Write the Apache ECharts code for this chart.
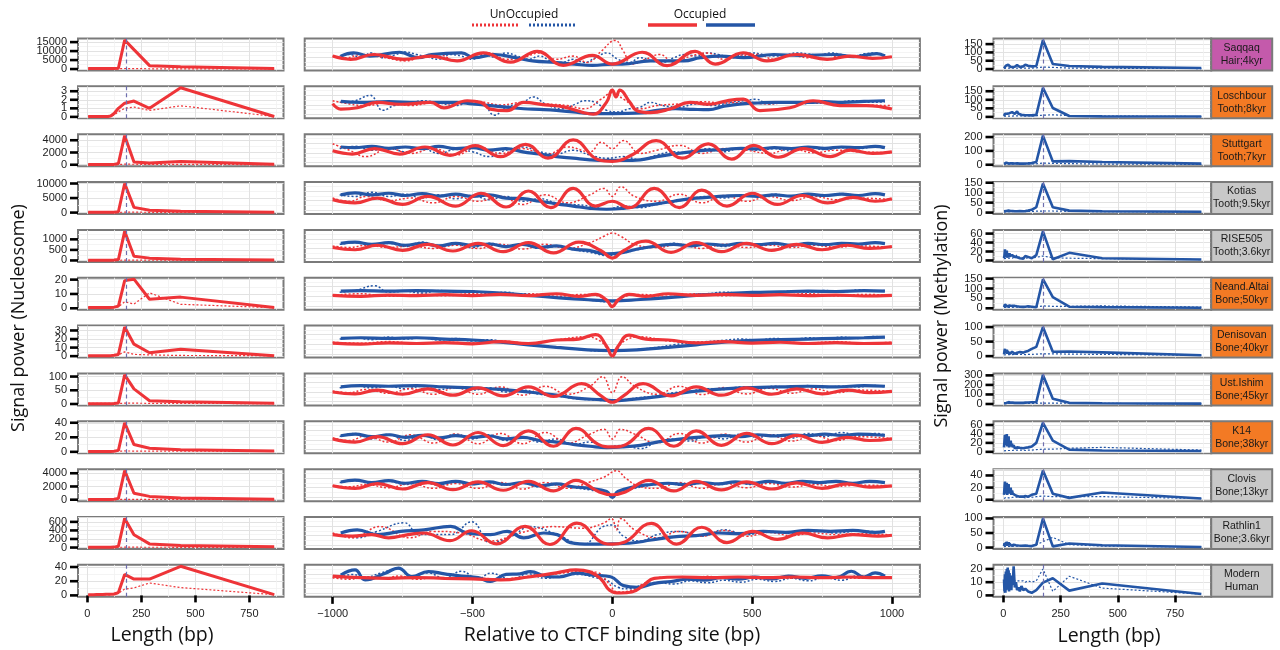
<!DOCTYPE html>
<html>
<head>
<meta charset="utf-8">
<script src="https://cdn.jsdelivr.net/npm/echarts@6/dist/echarts.min.js"></script>
<style>
html,body{margin:0;padding:0;background:#fff}
#chart{width:1280px;height:650px}
</style>
</head>
<body>
<div id="chart"></div>
<script>
// ---- facet labels ----
const samples = ['Saqqaq\nHair;4kyr','Loschbour\nTooth;8kyr','Stuttgart\nTooth;7kyr','Kotias\nTooth;9.5kyr',
  'RISE505\nTooth;3.6kyr','Neand.Altai\nBone;50kyr','Denisovan\nBone;40kyr','Ust.Ishim\nBone;45kyr',
  'K14\nBone;38kyr','Clovis\nBone;13kyr','Rathlin1\nBone;3.6kyr','Modern\nHuman'];
const sampleGroup = ['hair','tooth','tooth','grey','grey','bone','bone','bone','bone','grey','grey','grey'];

// ---- y tick labels per row ----
const nucTicks = [[0,5000,10000,15000],[0,1,2,3],[0,2000,4000],[0,5000,10000],[0,500,1000],[0,10,20],
  [0,10,20,30],[0,50,100],[0,20,40],[0,2000,4000],[0,200,400,600],[0,20,40]];
const methTicks = [[0,50,100,150],[0,50,100,150],[0,100,200],[0,50,100,150],[0,20,40,60],[0,50,100,150],
  [0,50,100],[0,100,200,300],[0,20,40,60],[0,20,40],[0,50,100],[0,10,20]];
const lengthTicks = [0,250,500,750];
const ctcfTicks = [-1000,-500,0,500,1000];

// ---- nucleosome periodogram (period in bp) ----
const NUC_LEN = [4,8,17,29,43,58,72,86,96,108,124,144,173,216,288,432,865];
const nucOcc = [
  [300,300,300,300,300,300,300,300,300,300,350,500,16200,10800,1900,1300,300],
  [0.05,0.05,0.05,0.05,0.05,0.05,0.05,0.05,0.05,0.1,0.4,1.0,1.6,1.85,1.0,3.4,0.05],
  [50,50,50,50,50,50,50,50,50,50,60,200,4750,450,280,520,100],
  [100,100,100,100,100,100,100,100,100,100,120,300,10000,1800,800,500,150],
  [15,15,15,15,15,15,15,15,15,15,20,40,1380,200,110,60,20],
  [0.5,0.5,0.5,0.5,0.5,0.5,0.5,0.5,0.5,0.6,0.8,1.5,19.3,20.3,6.3,7.8,0.5],
  [0.5,0.5,0.5,0.5,0.5,0.5,0.5,0.5,0.5,0.6,1,2,34,14,4,8,0.5],
  [1,1,1,1,1,1,1,1,1,1,2,4,106,55,12,8,3],
  [0.5,0.5,0.5,0.5,0.5,0.5,0.5,0.5,0.5,0.5,0.8,2,40,10,5,3,1],
  [30,30,30,30,30,30,30,30,30,30,60,200,4400,970,500,260,80],
  [5,5,5,5,5,5,5,5,5,5,10,30,680,300,85,50,20],
  [1,1,1,1,1.2,1.2,1.2,1.5,1.5,1.5,2,4,29.5,23,23,41,1]
];
const nucUnocc = [
  [100,100,100,100,100,100,100,100,100,100,100,150,300,250,150,120,50],
  [0.05,0.05,0.05,0.05,0.05,0.05,0.05,0.05,0.05,0.05,0.2,0.6,1.0,1.15,0.75,1.3,0.05],
  [30,30,30,30,30,30,30,30,30,30,30,40,100,80,60,60,20],
  [50,50,50,50,50,50,50,50,50,50,50,60,150,150,100,80,40],
  [5,5,5,5,5,5,5,5,5,5,5,6,15,15,10,8,4],
  [0.4,0.4,0.4,0.4,0.4,0.4,0.4,0.4,0.4,0.4,0.6,1.0,4.5,3,10.8,2.8,0.4],
  [0.5,0.5,0.5,0.5,0.5,0.5,0.5,0.5,0.5,0.5,0.8,1.5,5,2,1.5,0.8,0.5],
  [2,2,2,2,2,2,2,2,2,2,2,2,3,3,2.5,2,1.5],
  [0.8,0.8,0.8,0.8,0.8,0.8,0.8,0.8,0.8,0.8,0.8,0.9,1.2,1.1,1,0.9,0.6],
  [30,30,30,30,30,30,30,30,30,30,30,35,50,45,40,35,20],
  [5,5,5,5,5,5,5,5,5,5,5,6,8,8,7,6,4],
  [0.5,0.5,0.5,0.5,0.5,0.5,0.5,0.6,0.7,0.8,1,3,9,10.5,17.5,11,1]
];

// ---- methylation periodogram (period in bp) ----
const METH_LEN = [3,5,7,9,11,13,15,17,19,21,23,25,27,29,32,35,38,41,45,50,55,60,66,72,79,87,96,108,124,144,173,216,288,432,865];
const methOcc = [
  [5,10,15,12,20,18,25,22,30,26,28,20,18,15,12,14,10,12,10,14,20,24,22,12,10,16,26,20,16,18,175,30,18,13,6],
  [5,12,18,14,20,16,22,18,24,20,26,18,22,16,24,20,28,22,30,18,20,32,18,14,12,10,10,10,9,12,170,52,5,3,2],
  [6,10,14,9,12,15,8,13,11,14,9,12,10,8,11,9,7,10,8,9,8,10,7,8,6,8,9,10,12,20,210,24,26,20,8],
  [6,12,15,10,14,8,12,9,11,7,10,8,9,6,8,7,6,8,6,7,5,7,6,8,6,7,8,10,14,27,146,27,10,7,4],
  [5,12,25,8,18,10,22,6,15,12,18,8,16,10,14,8,12,15,10,8,12,7,10,5,8,4,10,8,5,12,65,2.5,17,5,2],
  [6,14,20,10,16,12,20,9,15,12,18,10,14,11,16,9,12,14,10,12,8,10,6,8,6,7,8,10,8,5,147,56,8,6,3],
  [6,18,25,10,20,12,22,8,16,10,18,12,14,8,12,10,15,9,12,8,10,12,8,14,10,12,15,18,25,32,100,15,16,13,3],
  [8,15,20,12,18,10,22,14,16,12,20,10,15,12,14,10,12,14,10,12,10,12,10,12,10,12,14,15,18,20,305,55,12,8,4],
  [10,25,38,15,30,20,40,12,28,18,35,10,22,15,25,12,18,10,15,8,12,10,8,9,7,8,9,10,12,20,65,25,5,3,2],
  [8,20,30,10,25,15,28,8,22,12,26,10,18,12,20,8,15,10,12,8,10,6,8,5,7,5,6,5,8,10,48,10,3,12,2],
  [5,15,20,8,18,10,20,6,16,9,18,7,14,8,15,6,12,8,10,6,8,6,7,5,6,5,7,6,5,10,100,4,14,8,2],
  [12,3,16,2,18,4,20,6,21,5,19,3,17,6,15,4,14,8,22,6,10,4,6,3,7,4,5,3,2,4,9.7,13,3.6,9,1]
];
const methUnocc = [
  [4,5,5,6,5,6,5,6,5,6,5,6,5,6,5,6,5,6,5,6,5,6,5,6,5,6,5,6,6,7,12,10,6,5,3],
  [4,5,5,6,5,6,5,6,5,6,5,6,5,6,5,6,5,6,5,6,5,6,5,6,5,6,5,6,6,7,10,12,8,5,2],
  [4,5,5,6,5,6,5,6,5,6,5,6,5,6,5,6,5,6,5,6,5,6,5,6,5,6,5,6,6,7,12,10,8,5,3],
  [4,5,5,6,5,6,5,6,5,6,5,6,5,6,5,6,5,6,5,6,5,6,5,6,5,6,5,6,6,7,8,8,6,5,3],
  [4,5,5,6,5,6,5,6,5,6,5,6,5,6,5,6,5,6,5,8,10,12,8,6,5,6,5,6,6,7,10,6,5,4,2],
  [4,5,5,6,5,6,5,6,5,6,5,6,5,6,5,6,5,6,5,6,5,6,5,6,5,6,5,6,6,7,12,10,10,12,6],
  [4,5,5,6,5,6,5,6,5,6,5,6,5,6,5,6,5,6,5,6,5,6,5,6,5,6,5,6,6,7,8,8,7,6,3],
  [4,5,5,6,5,6,5,6,5,6,5,6,5,6,5,6,5,6,5,6,5,6,5,6,5,6,5,6,6,7,10,10,8,6,3],
  [2,3,3,4,3,4,3,4,3,4,3,4,3,4,3,4,3,4,3,4,3,4,3,4,3,4,3,4,4,5,6,6,8,10,4],
  [2,3,3,4,3,4,3,4,3,4,3,4,3,4,3,4,3,4,3,4,3,4,3,4,3,4,3,4,4,5,6,5,5,5,2],
  [3,4,4,5,4,5,4,5,4,5,4,5,4,5,4,5,4,5,4,5,4,5,4,5,4,5,4,5,6,10,20,35,10,5,2],
  [2,3,4,3,5,4,6,5,7,6,8,6,7,6,8,7,8,10,13,11,10,11,10,11,10,11,10,11,10,11,20,3,14.5,5.5,1]
];

// ---- signal around CTCF sites: [position, relative level 0..100] ----
const ctcfNucOcc = [
  [[-1000,45],[-936,35],[-854,50],[-746,35],[-650,45],[-555,30],[-461,55],[-364,26],[-268,60],[-175,16],[-71,47],[0,20],[107,57],[196,15],[296,60],[368,20],[468,55],[553,30],[660,50],[768,35],[850,45],[930,38],[1000,43]],
  [[-1000,46],[-971,29],[-912,33],[-840,50],[-757,44],[-650,50],[-602,33],[-519,55],[-470,50],[-436,29],[-376,24],[-317,50],[-240,42],[-174,36],[-104,18],[-68,13],[-21,50],[-5,85],[0,88],[13,67],[27,88],[63,50],[88,24],[135,18],[206,29],[278,50],[349,44],[410,55],[468,60],[528,24],[635,33],[718,55],[814,40],[909,40],[1000,29]],
  [[-1000,48],[-930,38],[-850,55],[-760,38],[-670,60],[-580,34],[-490,64],[-400,30],[-310,68],[-230,25],[-140,82],[-50,20],[0,15],[70,35],[157,80],[250,25],[343,70],[427,22],[505,65],[593,28],[683,55],[780,30],[850,50],[930,40],[1000,45]],
  [[-1000,45],[-920,35],[-840,50],[-750,30],[-660,55],[-560,25],[-470,65],[-380,22],[-300,72],[-220,20],[-140,80],[-60,25],[0,40],[60,20],[150,80],[240,20],[320,75],[410,25],[500,65],[590,30],[680,58],[770,35],[860,52],[940,40],[1000,48]],
  [[-1000,45],[-920,38],[-840,52],[-750,36],[-660,55],[-570,34],[-480,58],[-390,32],[-300,60],[-210,28],[-120,62],[-40,35],[0,12],[40,35],[120,65],[210,30],[300,60],[390,32],[480,58],[570,36],[660,55],[750,38],[840,52],[920,42],[1000,48]],
  [[-1000,45],[-900,42],[-800,46],[-700,44],[-600,47],[-500,44],[-400,48],[-300,44],[-200,50],[-120,42],[-60,48],[-20,30],[0,10],[20,30],[60,48],[120,42],[200,50],[300,45],[400,48],[500,45],[600,47],[700,44],[800,46],[900,43],[1000,45]],
  [[-1000,45],[-900,42],[-800,46],[-700,44],[-600,47],[-500,43],[-400,50],[-300,44],[-200,55],[-120,58],[-60,72],[-20,35],[0,5],[20,35],[60,70],[120,58],[200,55],[300,46],[400,50],[500,45],[600,48],[700,44],[800,47],[900,44],[1000,45]],
  [[-1000,42],[-920,36],[-840,48],[-750,35],[-660,52],[-570,32],[-480,55],[-390,30],[-300,58],[-210,28],[-110,68],[-40,30],[0,10],[40,30],[110,68],[210,30],[300,58],[390,32],[480,55],[570,35],[660,52],[750,36],[840,48],[920,40],[1000,44]],
  [[-1000,45],[-920,35],[-840,52],[-750,30],[-660,58],[-570,26],[-480,65],[-390,24],[-300,70],[-210,22],[-130,78],[-50,28],[0,20],[50,28],[130,78],[220,22],[300,70],[390,25],[480,62],[570,30],[660,56],[750,34],[840,50],[920,40],[1000,45]],
  [[-1000,48],[-920,40],[-840,55],[-750,38],[-660,58],[-570,36],[-480,60],[-390,34],[-300,62],[-210,32],[-130,65],[-50,30],[0,20],[50,30],[130,65],[220,32],[300,62],[390,35],[480,60],[570,38],[660,57],[750,40],[840,54],[920,44],[1000,48]],
  [[-1000,45],[-930,40],[-860,45],[-800,35],[-730,45],[-676,50],[-580,26],[-503,57],[-414,16],[-312,71],[-223,14],[-127,81],[-33,19],[0,15],[40,20],[140,80],[230,15],[320,68],[410,20],[500,55],[590,30],[680,50],[770,35],[860,45],[950,40],[1000,43]],
  [[-1000,65],[-900,60],[-800,58],[-700,60],[-600,58],[-500,56],[-400,53],[-300,62],[-200,75],[-130,84],[-80,78],[-40,55],[-10,21],[30,12],[70,15],[110,35],[150,58],[250,62],[350,60],[450,62],[550,60],[650,62],[750,60],[850,62],[950,60],[1000,60]]
];
const ctcfNucUnocc = [
  [[-1000,45],[-950,40],[-900,50],[-850,45],[-800,38],[-740,30],[-680,45],[-620,50],[-560,30],[-500,45],[-440,55],[-380,35],[-320,40],[-260,55],[-200,35],[-140,45],[-90,25],[-40,60],[10,94],[40,60],[70,20],[120,35],[170,50],[220,25],[280,45],[340,55],[400,35],[460,45],[520,50],[580,35],[640,48],[700,40],[760,50],[820,42],[880,45],[940,40],[1000,42]],
  [[-1000,55],[-940,45],[-880,40],[-800,50],[-720,40],[-640,48],[-560,45],[-480,52],[-400,42],[-320,50],[-240,45],[-160,40],[-100,30],[-40,60],[0,80],[40,60],[100,30],[160,40],[240,45],[320,52],[400,48],[480,50],[560,45],[640,52],[720,48],[800,45],[880,42],[1000,40]],
  [[-1000,70],[-940,50],[-880,30],[-800,55],[-720,40],[-640,55],[-560,35],[-480,60],[-400,40],[-320,55],[-240,35],[-160,60],[-80,45],[-40,75],[0,55],[40,80],[100,40],[160,50],[240,65],[320,40],[400,55],[480,50],[560,40],[640,55],[720,42],[800,50],[880,45],[1000,42]],
  [[-1000,50],[-940,40],[-880,55],[-800,42],[-720,50],[-640,35],[-560,55],[-480,40],[-400,55],[-320,30],[-240,60],[-160,35],[-80,60],[-30,80],[0,55],[30,85],[80,55],[160,40],[240,62],[320,35],[400,58],[480,40],[560,55],[640,42],[720,55],[800,45],[880,50],[1000,45]],
  [[-1000,50],[-940,45],[-880,52],[-800,45],[-720,50],[-640,42],[-560,52],[-480,42],[-400,55],[-320,40],[-240,55],[-160,42],[-80,60],[-30,80],[0,90],[30,80],[80,55],[160,45],[240,55],[320,42],[400,55],[480,45],[560,52],[640,45],[720,52],[800,46],[880,50],[1000,45]],
  [[-1000,45],[-900,50],[-800,42],[-700,48],[-600,44],[-500,50],[-400,45],[-300,50],[-200,42],[-100,48],[-40,40],[0,15],[40,40],[100,48],[200,42],[300,50],[400,44],[500,48],[600,45],[700,50],[800,44],[900,48],[1000,45]],
  [[-1000,48],[-900,45],[-800,50],[-700,44],[-600,48],[-500,46],[-400,52],[-300,45],[-200,55],[-100,65],[-40,50],[0,10],[40,50],[100,65],[200,52],[300,48],[400,50],[500,45],[600,48],[700,46],[800,50],[900,45],[1000,48]],
  [[-1000,45],[-940,40],[-880,50],[-800,38],[-720,52],[-640,35],[-560,55],[-480,35],[-400,58],[-320,32],[-240,60],[-160,35],[-80,60],[-35,90],[0,40],[35,90],[80,60],[160,35],[240,60],[320,34],[400,56],[480,36],[560,54],[640,38],[720,52],[800,40],[880,48],[1000,44]],
  [[-1000,48],[-940,40],[-880,55],[-800,35],[-720,58],[-640,32],[-560,60],[-480,30],[-400,62],[-320,30],[-240,65],[-160,32],[-80,60],[-30,75],[0,45],[30,75],[80,60],[160,32],[240,62],[320,32],[400,60],[480,35],[560,58],[640,38],[720,55],[800,40],[880,52],[1000,46]],
  [[-1000,48],[-940,45],[-880,52],[-800,42],[-720,55],[-640,40],[-560,55],[-480,40],[-400,58],[-320,38],[-240,58],[-160,40],[-80,60],[-30,75],[15,95],[50,70],[100,45],[160,40],[240,58],[320,40],[400,56],[480,42],[560,55],[640,44],[720,52],[800,46],[880,50],[1000,48]],
  [[-1000,50],[-927,35],[-831,70],[-724,35],[-640,55],[-540,50],[-436,25],[-330,50],[-211,70],[-104,65],[-33,80],[-3,95],[15,60],[30,95],[80,60],[160,35],[240,55],[320,40],[400,58],[480,40],[560,52],[640,42],[720,50],[800,45],[880,48],[1000,44]],
  [[-1000,60],[-940,55],[-880,62],[-820,58],[-760,65],[-700,55],[-640,60],[-580,55],[-520,62],[-460,58],[-400,55],[-340,60],[-280,66],[-220,70],[-160,76],[-100,80],[-50,75],[-15,45],[20,15],[60,18],[110,40],[160,60],[220,62],[280,58],[340,64],[400,58],[460,62],[520,58],[580,62],[640,58],[700,62],[760,58],[820,62],[880,58],[940,62],[1000,58]]
];
const ctcfMethOcc = [
  [[-971,45],[-925,55],[-867,45],[-761,57],[-693,40],[-646,50],[-539,55],[-495,40],[-421,50],[-346,40],[-285,30],[-200,25],[-136,20],[-71,16],[0,20],[35,20],[136,30],[255,30],[315,40],[387,45],[470,40],[577,50],[672,47],[792,50],[863,43],[946,53],[975,45]],
  [[-971,53],[-900,50],[-800,52],[-700,50],[-600,50],[-555,50],[-500,45],[-436,40],[-380,35],[-317,30],[-260,28],[-200,25],[-140,20],[-80,15],[0,15],[105,17],[160,25],[226,30],[290,28],[345,27],[400,38],[464,45],[520,48],[583,50],[650,50],[703,50],[760,52],[822,50],[900,53],[975,55]],
  [[-971,60],[-920,58],[-860,62],[-800,56],[-740,60],[-680,55],[-620,62],[-560,55],[-500,58],[-440,50],[-380,55],[-320,45],[-260,38],[-200,30],[-140,25],[-80,20],[-20,18],[40,18],[100,20],[160,30],[220,38],[280,45],[340,50],[400,52],[460,56],[520,54],[580,58],[640,55],[700,60],[760,56],[820,60],[880,58],[940,62],[975,58]],
  [[-971,60],[-920,66],[-860,60],[-800,65],[-740,58],[-680,64],[-620,56],[-560,62],[-500,55],[-440,60],[-380,50],[-320,48],[-260,40],[-200,32],[-140,25],[-80,18],[-20,15],[40,18],[100,25],[160,32],[220,40],[280,48],[340,52],[400,56],[460,58],[520,55],[580,60],[640,56],[700,62],[760,58],[820,62],[880,58],[940,64],[975,60]],
  [[-971,58],[-920,62],[-860,55],[-800,60],[-740,52],[-680,58],[-620,50],[-560,58],[-500,52],[-440,56],[-380,48],[-320,55],[-260,45],[-200,50],[-140,40],[-80,35],[-20,25],[40,30],[100,42],[160,50],[220,55],[280,50],[340,56],[400,52],[460,58],[520,54],[580,58],[640,52],[700,58],[760,54],[820,58],[880,56],[940,60],[975,57]],
  [[-971,58],[-900,60],[-800,58],[-700,60],[-600,58],[-500,57],[-400,52],[-300,45],[-200,38],[-100,32],[0,28],[100,32],[200,38],[300,45],[400,50],[500,54],[600,56],[700,58],[800,57],[900,60],[975,58]],
  [[-971,60],[-900,62],[-800,60],[-700,62],[-600,58],[-500,55],[-400,48],[-300,40],[-200,32],[-100,25],[0,22],[100,25],[200,32],[300,40],[400,48],[500,54],[600,56],[700,58],[800,60],[900,62],[975,64]],
  [[-971,58],[-900,62],[-800,60],[-700,62],[-600,58],[-500,55],[-400,50],[-300,42],[-200,32],[-120,22],[-40,18],[0,15],[60,18],[140,25],[220,35],[300,45],[400,52],[500,56],[600,58],[700,60],[800,58],[900,62],[975,60]],
  [[-971,55],[-920,60],[-860,52],[-800,58],[-740,50],[-680,56],[-620,48],[-560,55],[-500,50],[-440,54],[-380,45],[-320,50],[-260,40],[-200,35],[-140,28],[-80,22],[-20,18],[40,20],[100,25],[160,35],[220,42],[280,48],[340,52],[400,55],[460,52],[520,58],[580,54],[640,58],[700,55],[760,60],[820,56],[880,60],[940,58],[975,56]],
  [[-971,60],[-920,66],[-860,58],[-800,64],[-740,56],[-680,62],[-620,55],[-560,62],[-500,54],[-440,60],[-380,52],[-320,58],[-260,48],[-200,54],[-140,45],[-80,40],[-20,30],[0,12],[20,30],[80,45],[140,52],[200,56],[260,52],[320,58],[380,54],[440,60],[500,56],[560,62],[620,56],[680,62],[740,58],[800,62],[860,56],[920,62],[975,58]],
  [[-971,50],[-912,60],[-840,45],[-757,55],[-673,60],[-578,71],[-519,50],[-436,45],[-376,55],[-317,35],[-245,50],[-197,45],[-150,20],[-78,15],[-6,16],[60,18],[140,28],[220,38],[300,42],[380,50],[460,48],[540,55],[620,52],[700,58],[780,55],[860,58],[940,52],[975,55]],
  [[-971,68],[-920,84],[-884,53],[-812,74],[-765,90],[-717,63],[-658,79],[-600,72],[-540,65],[-480,60],[-436,48],[-380,70],[-330,72],[-293,79],[-240,65],[-190,62],[-126,74],[-70,68],[-6,63],[40,35],[90,30],[150,42],[210,48],[270,55],[330,52],[390,60],[450,55],[510,62],[570,56],[630,65],[690,58],[750,66],[800,60],[855,80],[900,62],[940,75],[975,65]]
];
const ctcfMethUnocc = [
  [[-975,45],[-940,50],[-900,42],[-860,55],[-820,40],[-780,48],[-740,58],[-700,50],[-660,42],[-620,35],[-580,50],[-540,45],[-500,35],[-460,50],[-420,42],[-380,55],[-340,45],[-300,35],[-260,45],[-220,30],[-180,25],[-140,35],[-100,25],[-60,40],[-20,55],[20,35],[60,25],[100,40],[140,30],[180,25],[220,40],[260,50],[300,45],[340,55],[380,50],[420,42],[460,48],[500,55],[540,50],[580,45],[620,48],[660,55],[700,52],[740,48],[780,55],[820,50],[860,45],[900,52],[940,55],[975,48]],
  [[-975,50],[-920,55],[-867,72],[-820,25],[-780,40],[-737,45],[-680,55],[-620,48],[-560,40],[-500,55],[-460,45],[-421,10],[-380,35],[-320,50],[-282,67],[-240,45],[-180,30],[-130,45],[-100,55],[-60,50],[-20,25],[20,20],[60,30],[100,35],[136,50],[180,40],[240,35],[300,45],[360,40],[420,50],[470,55],[512,60],[560,45],[620,50],[680,45],[740,55],[800,50],[860,55],[920,50],[975,52]],
  [[-975,55],[-920,62],[-860,50],[-800,58],[-740,45],[-680,55],[-620,40],[-560,52],[-500,45],[-440,30],[-380,50],[-320,60],[-260,45],[-200,38],[-140,50],[-80,35],[-20,25],[40,30],[100,20],[160,35],[220,45],[280,40],[340,55],[400,45],[460,58],[520,50],[580,55],[640,48],[700,60],[760,52],[820,58],[880,55],[940,60],[975,56]],
  [[-975,60],[-920,55],[-860,68],[-800,55],[-740,62],[-680,50],[-620,60],[-560,48],[-500,58],[-440,45],[-380,55],[-320,40],[-260,48],[-200,35],[-140,30],[-80,25],[-20,15],[40,25],[100,20],[160,30],[220,38],[280,48],[340,55],[400,50],[460,60],[520,55],[580,62],[640,55],[700,60],[760,58],[820,64],[880,58],[940,62],[975,60]],
  [[-975,55],[-920,60],[-860,50],[-800,58],[-740,48],[-680,62],[-620,50],[-560,55],[-500,45],[-440,58],[-380,50],[-320,55],[-260,42],[-200,48],[-140,38],[-80,30],[-20,20],[40,28],[100,40],[160,48],[220,58],[280,50],[340,55],[400,48],[460,60],[520,52],[580,56],[640,50],[700,60],[760,52],[820,58],[880,54],[940,60],[975,56]],
  [[-975,55],[-920,60],[-850,75],[-800,55],[-740,58],[-680,52],[-620,60],[-560,55],[-500,58],[-440,50],[-380,55],[-320,45],[-260,48],[-200,40],[-140,35],[-80,30],[-20,25],[40,28],[100,32],[160,38],[220,42],[280,48],[340,50],[400,55],[460,52],[520,56],[580,54],[640,58],[700,55],[760,60],[820,56],[880,62],[940,58],[975,60]],
  [[-975,58],[-920,62],[-860,56],[-800,64],[-740,58],[-680,62],[-620,55],[-560,60],[-500,52],[-440,56],[-380,48],[-320,42],[-260,38],[-200,32],[-140,28],[-80,22],[-20,20],[40,22],[100,26],[160,32],[220,40],[280,46],[340,50],[400,54],[460,58],[520,55],[580,60],[640,56],[700,62],[760,58],[820,64],[880,60],[940,66],[975,62]],
  [[-975,55],[-920,62],[-860,55],[-800,60],[-740,52],[-680,60],[-620,50],[-560,58],[-500,48],[-440,55],[-380,42],[-320,48],[-260,35],[-200,30],[-140,22],[-80,18],[-20,15],[40,18],[100,25],[160,30],[220,40],[280,45],[340,52],[400,50],[460,58],[520,54],[580,60],[640,55],[700,62],[760,56],[820,60],[880,58],[940,62],[975,58]],
  [[-975,52],[-920,62],[-860,45],[-800,60],[-740,40],[-680,58],[-620,42],[-560,60],[-500,45],[-440,58],[-380,40],[-320,52],[-260,35],[-200,45],[-140,28],[-80,35],[-20,20],[40,25],[100,15],[160,35],[220,45],[280,38],[340,55],[400,45],[460,60],[520,50],[580,58],[640,48],[700,62],[760,52],[820,65],[880,55],[940,62],[975,58]],
  [[-975,58],[-920,64],[-860,55],[-800,62],[-740,52],[-680,60],[-620,50],[-560,62],[-500,52],[-440,58],[-380,50],[-320,56],[-260,45],[-200,52],[-140,42],[-80,35],[-20,25],[0,10],[20,25],[80,40],[140,50],[200,55],[260,48],[320,56],[380,52],[440,58],[500,52],[560,60],[620,54],[680,60],[740,55],[800,62],[860,55],[920,60],[975,58]],
  [[-971,48],[-912,35],[-840,55],[-744,82],[-690,45],[-578,45],[-503,85],[-436,20],[-360,40],[-293,70],[-211,50],[-104,15],[-33,70],[0,75],[40,40],[100,25],[160,45],[240,55],[320,40],[400,60],[480,45],[560,55],[640,48],[720,58],[800,50],[880,56],[975,52]],
  [[-975,60],[-930,70],[-880,62],[-830,74],[-765,88],[-720,62],[-660,75],[-600,58],[-540,80],[-480,56],[-436,74],[-360,55],[-300,72],[-240,58],[-180,66],[-120,70],[-60,60],[-20,52],[20,30],[60,25],[110,38],[160,45],[220,40],[280,50],[340,44],[400,52],[460,46],[520,55],[580,48],[640,58],[700,50],[760,60],[820,52],[880,66],[940,58],[975,62]]
];

// ---- appearance ----
const RED = '#ee3438', BLUE = '#2456a6';
const STRIP = {hair:'#c45aab', tooth:'#f37a24', bone:'#f37a24', grey:'#c8c8c8'};
const BORDER = '#7a7a7a';
const TICK_FONT = 'Liberation Sans, Arial, sans-serif';
const TITLE_FONT = 'Open Sans, sans-serif';
const ROW_TOP0 = 38.5, ROW_STEP = 47.85, ROW_H = 32;
const COL = {
  nuc:  {left: 78,    width: 205.5, min: -43,  max: 908,  minor: [125,375,625,875]},
  ctcf: {left: 304.7, width: 615.2, min: -1100, max: 1100, minor: [-750,-250,250,750]},
  meth: {left: 993.5, width: 217.7, min: -43,  max: 908,  minor: [125,375,625,875]}
};
const N = samples.length;

const grids = [], xAxes = [], yAxes = [], series = [], graphics = [];
const yTickSets = [];   // y axes whose ticks and labels are drawn as graphics
const minus = v => String(v).replace('-', '\u2212');

function addPanel(col, r, yTicks, yLabels) {
  const gi = grids.length;
  const top = ROW_TOP0 + r * ROW_STEP;
  grids.push({left: col.left, top: top, width: col.width, height: ROW_H, show: true,
    backgroundColor: '#fff', borderColor: BORDER, borderWidth: 2, containLabel: false});
  const last = r === N - 1;
  const xMajor = col === COL.ctcf ? ctcfTicks : lengthTicks;
  // major x axis (carries the data)
  const xi = xAxes.length;
  xAxes.push({gridIndex: gi, type: 'value', min: col.min, max: col.max, position: 'bottom',
    axisLine: {show: false},
    axisTick: {show: last, customValues: xMajor, length: 7, lineStyle: {color: '#000', width: 2.6}},
    axisLabel: {show: last, customValues: xMajor, margin: 12, fontSize: 11, color: '#222',
      fontFamily: TICK_FONT, formatter: minus, hideOverlap: false, showMinLabel: true, showMaxLabel: true},
    splitLine: {show: true, lineStyle: {color: '#e2e2e2', width: 1}}});
  // minor x grid
  xAxes.push({gridIndex: gi, type: 'value', min: col.min, max: col.max, position: 'top',
    axisLine: {show: false}, axisTick: {show: false, customValues: col.minor},
    axisLabel: {show: false, customValues: col.minor},
    splitLine: {show: true, lineStyle: {color: '#f1f1f1', width: 0.8}}});
  const yMax = yTicks.max, yMin = yTicks.min;
  const yi = yAxes.length;
  yAxes.push({gridIndex: gi, type: 'value', min: yMin, max: yMax,
    axisLine: {show: false},
    axisTick: {show: false, customValues: yTicks.major},
    axisLabel: {show: false, customValues: yTicks.major},
    splitLine: {show: true, lineStyle: {color: '#e2e2e2', width: 1}}});
  yAxes.push({gridIndex: gi, type: 'value', min: yMin, max: yMax, position: 'right',
    axisLine: {show: false}, axisTick: {show: false, customValues: yTicks.minor},
    axisLabel: {show: false, customValues: yTicks.minor},
    splitLine: {show: true, lineStyle: {color: '#f1f1f1', width: 0.8}}});
  if (yLabels) yTickSets.push({yi, left: col.left, ticks: yTicks.major});
  return {xi, yi, top};
}

function yRange(ticks, values) {
  const hi = Math.max(...values, ticks[ticks.length - 1] * 0.2);
  const step = ticks[1] - ticks[0];
  const minor = [];
  for (let t = ticks[0] + step / 2; t < hi * 1.05; t += step) minor.push(t);
  return {min: -0.05 * hi, max: hi * 1.05, major: ticks, minor};
}

function vline(x) {
  return {silent: true, symbol: 'none', label: {show: false}, animation: false,
    lineStyle: {color: '#6e6eae', type: [4, 3], width: 1.2}, data: [{xAxis: x}]};
}

for (let r = 0; r < N; r++) {
  // nucleosome periodogram
  const ny = yRange(nucTicks[r], nucOcc[r].concat(nucUnocc[r]));
  const a = addPanel(COL.nuc, r, ny, true);
  series.push({type: 'line', xAxisIndex: a.xi, yAxisIndex: a.yi, showSymbol: false, z: 2,
    data: NUC_LEN.map((x, i) => [x, nucUnocc[r][i]]),
    lineStyle: {color: RED, width: 1.2, type: [2, 2]}});
  series.push({type: 'line', xAxisIndex: a.xi, yAxisIndex: a.yi, showSymbol: false, z: 3,
    data: NUC_LEN.map((x, i) => [x, nucOcc[r][i]]),
    lineStyle: {color: RED, width: 3}, markLine: vline(182)});

  // CTCF profile
  const b = addPanel(COL.ctcf, r, {min: 0, max: 100, major: [12, 42, 72], minor: [27, 57, 87]}, false);
  const prof = [
    [ctcfMethUnocc[r], BLUE, 1.5, [2, 2], 2],
    [ctcfNucUnocc[r], RED, 1.5, [2, 2], 3],
    [ctcfMethOcc[r], BLUE, 3.2, 'solid', 4],
    [ctcfNucOcc[r], RED, 3.2, 'solid', 5]
  ];
  prof.forEach(([d, c, w, t, z]) => {
    series.push({type: 'line', xAxisIndex: b.xi, yAxisIndex: b.yi, showSymbol: false, z: z,
      smooth: 0.45, data: d, lineStyle: {color: c, width: w, type: t}});
  });

  // methylation periodogram
  const my = yRange(methTicks[r], methOcc[r].concat(methUnocc[r]));
  const c = addPanel(COL.meth, r, my, true);
  series.push({type: 'line', xAxisIndex: c.xi, yAxisIndex: c.yi, showSymbol: false, z: 2,
    data: METH_LEN.map((x, i) => [x, methUnocc[r][i]]),
    lineStyle: {color: BLUE, width: 1.2, type: [2, 2]}});
  series.push({type: 'line', xAxisIndex: c.xi, yAxisIndex: c.yi, showSymbol: false, z: 3,
    data: METH_LEN.map((x, i) => [x, methOcc[r][i]]),
    lineStyle: {color: BLUE, width: 2.6}, markLine: vline(175)});

  // facet strip
  const sx = COL.meth.left + COL.meth.width;
  graphics.push({type: 'rect', shape: {x: sx, y: c.top, width: 61, height: ROW_H},
    style: {fill: STRIP[sampleGroup[r]], stroke: BORDER, lineWidth: 2}, z: 10});
  graphics.push({type: 'text', x: sx + 30.5, y: c.top + ROW_H / 2, z: 11,
    style: {text: samples[r], fill: '#1a1a1a', font: '10.5px ' + TICK_FONT, align: 'center',
      verticalAlign: 'middle', lineHeight: 13}});
}

// axis titles
const title = (text, x, y, size, rot) => ({type: 'text', x, y, rotation: rot || 0, z: 11,
  style: {text, fill: '#111', font: size + 'px ' + TITLE_FONT, align: 'center', verticalAlign: 'middle'}});
graphics.push(title('Signal power (Nucleosome)', 19, 318, 18, Math.PI / 2));
graphics.push(title('Signal power (Methylation)', 942, 316, 18, Math.PI / 2));
graphics.push(title('Length (bp)', 162, 635, 19.5));
graphics.push(title('Relative to CTCF binding site (bp)', 612, 635, 19.5));
graphics.push(title('Length (bp)', 1109, 636, 19.5));

// legend
const legText = (text, x) => ({type: 'text', x, y: 15, z: 11,
  style: {text, fill: '#111', font: '12px ' + TITLE_FONT, align: 'center', verticalAlign: 'middle'}});
const legLine = (x1, x2, color, dash) => ({type: 'line', z: 11,
  shape: {x1, y1: 25, x2, y2: 25}, style: {stroke: color, lineWidth: dash ? 3 : 3.5, lineDash: dash ? [2, 2] : null}});
graphics.push(legText('UnOccupied', 524));
graphics.push(legLine(472, 519, RED, true));
graphics.push(legLine(529, 577, BLUE, true));
graphics.push(legText('Occupied', 700));
graphics.push(legLine(648, 697, RED, false));
graphics.push(legLine(706, 755, BLUE, false));

const chart = echarts.init(document.getElementById('chart'));
chart.setOption({animation: false, backgroundColor: '#fff', grid: grids, xAxis: xAxes, yAxis: yAxes,
  series: series});

// y ticks and labels, placed through each panel's own y scale (labels may sit tightly, as in the panels)
yTickSets.forEach(s => {
  s.ticks.forEach(v => {
    const y = chart.convertToPixel({yAxisIndex: s.yi}, v);
    graphics.push({type: 'line', z: 12, shape: {x1: s.left - 8, y1: y, x2: s.left, y2: y},
      style: {stroke: '#000', lineWidth: 2.6}});
    graphics.push({type: 'text', x: s.left - 11, y: y, z: 12,
      style: {text: String(v), fill: '#222', font: '11px ' + TICK_FONT, align: 'right', verticalAlign: 'middle'}});
  });
});
chart.setOption({graphic: graphics});
</script>
</body>
</html>
